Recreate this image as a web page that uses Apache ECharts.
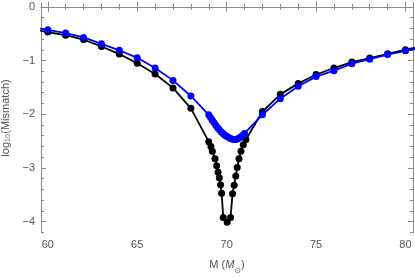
<!DOCTYPE html>
<html>
<head>
<meta charset="utf-8">
<script src="https://cdn.jsdelivr.net/npm/echarts@6/dist/echarts.min.js"></script>
<style>html,body{margin:0;padding:0;background:#fff}#c{width:415px;height:277px}</style>
</head>
<body>
<div id="c"></div>
<script>
// ---- data ----
var blackM = [59, 60, 61, 62, 63, 64, 65, 66, 67, 68,
  69.0, 69.12, 69.2, 69.35, 69.44, 69.52, 69.59, 69.66, 69.72, 69.81, 70.03, 70.22,
  70.33, 70.42, 70.51, 70.59, 70.69, 70.8, 70.93, 71.08,
  72, 73, 74, 75, 76, 77, 78, 79, 80, 81];
var blackV = [-0.41, -0.47, -0.53, -0.61, -0.74, -0.88, -1.05, -1.25, -1.51, -1.89,
  -2.51, -2.60, -2.69, -2.83, -2.96, -3.08, -3.18, -3.31, -3.47, -3.92, -4.01, -3.92,
  -3.48, -3.32, -3.15, -2.99, -2.83, -2.69, -2.57, -2.47,
  -1.95, -1.63, -1.43, -1.26, -1.14, -1.03, -0.955, -0.875, -0.80, -0.73];
var blueM = [59, 60, 61, 62, 63, 64, 65, 66, 67, 68,
  69.0, 69.1, 69.2, 69.3, 69.4, 69.5, 69.6, 69.7, 69.8, 69.9, 70.0,
  70.1, 70.2, 70.3, 70.4, 70.5, 70.6, 70.7, 70.8, 70.9, 71.0,
  72, 73, 74, 75, 76, 77, 78, 79, 80, 81];
var blueV = [-0.38, -0.43, -0.49, -0.57, -0.69, -0.81, -0.95, -1.14, -1.37, -1.66,
  -2.01, -2.06, -2.11, -2.16, -2.21, -2.25, -2.29, -2.33, -2.36, -2.39, -2.41,
  -2.43, -2.45, -2.46, -2.47, -2.47, -2.46, -2.44, -2.42, -2.39, -2.36,
  -2.01, -1.71, -1.48, -1.30, -1.19, -1.06, -0.975, -0.89, -0.82, -0.755];
var xTicks = [60, 65, 70, 75, 80];
var yTicks = [0, -1, -2, -3, -4];
var xMinor = [];
for (var i = 60; i <= 80; i++) if (i % 5 !== 0) xMinor.push(i);
var yMinor = [];
for (var k = 0; k >= -21; k--) if (k % 5 !== 0) yMinor.push(k / 5);

var xMin = 59.62, xMax = 80.42, yMin = -4.21, yMax = 0.07;
var frame = '#8a8a8a', txt = '#555';
var ff = 'Liberation Sans, Arial, sans-serif';
function pairs(a, b) { return a.map(function (v, i) { return [v, b[i]]; }); }
function fmt(v) { return String(v).replace('-', '\u2212'); }

function xa(pos, vals, len, show, labels) {
  return {
    type: 'value', position: pos, min: xMin, max: xMax,
    axisLine: { show: show, lineStyle: { color: frame, width: 1 } },
    axisTick: { show: true, inside: true, length: len, customValues: vals, lineStyle: { color: frame, width: 1 } },
    axisLabel: { show: !!labels, customValues: vals, color: txt, fontSize: 11, margin: 6, fontFamily: ff },
    splitLine: { show: false }
  };
}
function ya(pos, vals, len, show, labels) {
  return {
    type: 'value', position: pos, min: yMin, max: yMax,
    axisLine: { show: show, lineStyle: { color: frame, width: 1 } },
    axisTick: { show: true, inside: true, length: len, customValues: vals, lineStyle: { color: frame, width: 1 } },
    axisLabel: { show: !!labels, customValues: vals, color: txt, fontSize: 11, margin: 6, fontFamily: ff, formatter: fmt },
    splitLine: { show: false }
  };
}
var xAxes = [xa('bottom', xTicks, 5, true, true), xa('bottom', xMinor, 3, false), xa('top', xTicks, 5, true), xa('top', xMinor, 3, false)];
var yAxes = [ya('left', yTicks, 5, true, true), ya('left', yMinor, 3, false), ya('right', yTicks, 5, true), ya('right', yMinor, 3, false)];
xAxes[0].name = 'M ({i|M}{s|\u2299})';
xAxes[0].nameLocation = 'middle';
xAxes[0].nameGap = 26;
xAxes[0].nameTextStyle = { color: txt, fontSize: 11, fontFamily: ff,
  rich: { i: { fontStyle: 'italic', fontSize: 11, color: txt, fontFamily: ff },
          s: { fontSize: 8, color: txt, verticalAlign: 'bottom', padding: [0, 0, -5, 0], fontFamily: 'DejaVu Sans, sans-serif' } } };
yAxes[0].name = 'log\u2081\u2080(Mismatch)';
yAxes[0].nameLocation = 'middle';
yAxes[0].nameGap = 21;
yAxes[0].nameTextStyle = { color: txt, fontSize: 11, fontFamily: ff };

var chart = echarts.init(document.getElementById('c'), null, { renderer: 'canvas' });
chart.setOption({
  animation: false,
  backgroundColor: '#fff',
  grid: { left: 41, right: 2, top: 3, bottom: 44, containLabel: false, outerBoundsMode: 'none' },
  xAxis: xAxes,
  yAxis: yAxes,
  series: [
    { type: 'line', data: pairs(blackM, blackV), clip: true, symbol: 'circle', symbolSize: 7,
      itemStyle: { color: '#000' }, lineStyle: { color: '#000', width: 1.8 }, z: 2 },
    { type: 'line', data: pairs(blueM, blueV), clip: true, symbol: 'circle', symbolSize: 7,
      itemStyle: { color: '#0000ff' }, lineStyle: { color: '#0000ff', width: 1.8 }, z: 3 }
  ]
});
</script>
</body>
</html>
